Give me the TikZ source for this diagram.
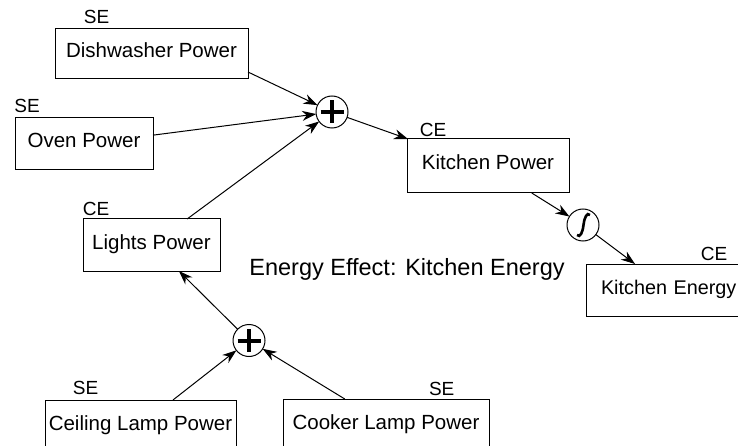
\documentclass[tikz,border=0pt]{standalone}
\usepackage{fontspec}
\setmainfont{Liberation Sans}
\usetikzlibrary{arrows.meta,calc}
\begin{document}
\begin{tikzpicture}[x=1pt,y=-1pt,
 box/.style={draw, line width=1pt, inner sep=0pt, outer sep=0pt, anchor=north west,
   font=\fontsize{20.5}{24}\selectfont, text height=15pt, text depth=7pt},
 tag/.style={inner sep=0pt, anchor=base, font=\fontsize{19}{22}\selectfont},
 junction/.style={draw, circle, line width=1pt, minimum size=32pt, inner sep=0pt, outer sep=0pt},
 sumj/.style={junction, path picture={
   \draw[line width=4pt] (path picture bounding box.center) ++(-11.5,0) -- ++(23,0);
   \draw[line width=4pt] (path picture bounding box.center) ++(0,-11.5) -- ++(0,23);}},
 intj/.style={junction, path picture={
   \draw[line width=2.6pt, shift={(path picture bounding box.center)}]
     (7,-10) .. controls (4,-13) and (1.5,-8) .. (0.5,0)
     .. controls (-0.5,8) and (-3,13) .. (-6,10);}},
 flow/.style={line width=1pt, -{Stealth[length=14pt,width=10pt,inset=4.5pt]}}
]
\useasboundingbox (0,0) rectangle (738,446);

% boxes
\node[box, minimum width=193pt, minimum height=50pt] (dish) at (55,29) {Dishwasher Power};
\node[box, minimum width=138pt, minimum height=52pt] (oven) at (15,118) {Oven Power};
\node[box, minimum width=162pt, minimum height=54pt] (kp) at (407,139) {Kitchen Power};
\node[box, minimum width=175pt, minimum height=52pt, text width=145pt, align=left,
      font=\fontsize{19.8}{24}\selectfont] (ke) at (586,264) {Kitchen Energy};
\node[box, minimum width=137pt, minimum height=52pt] (lights) at (83,219) {Lights Power};
\node[box, minimum width=191pt, minimum height=52pt] (ceil) at (45,400) {Ceiling Lamp Power};
\node[box, minimum width=206pt, minimum height=53pt] (cook) at (283,399) {Cooker Lamp Power};

% tags
\node[tag] (dishT) at (96.5,24) {SE};
\node[tag] (ovenT) at (27,113) {SE};
\node[tag] (kpT) at (433,137) {CE};
\node[tag] (keT) at (714,260.5) {CE};
\node[tag] (lightsT) at (96,215) {CE};
\node[tag] (ceilT) at (85.5,394) {SE};
\node[tag] (cookT) at (441.7,395) {SE};

% effect label
\node[anchor=base, inner sep=0pt, font=\fontsize{23.5}{28}\selectfont] (effect) at (407,275.7) {Energy Effect: Kitchen Energy};

% junctions
\node[sumj] (plusA) at (332,112) {};
\node[intj] (integ) at (583,225) {};
\node[sumj] (plusB) at (249,340.5) {};

% connectors
\draw[flow] ($(dish.north east)!0.86!(dish.south east)$) -- (plusA);
\draw[flow] ($(oven.north east)!0.33!(oven.south east)$) -- (plusA);
\draw[flow] ($(lights.north west)!0.76!(lights.north east)$) -- (plusA);
\draw[flow] (plusA) -- ([xshift=1pt]kp.north west);
\draw[flow] ($(kp.south west)!0.77!(kp.south east)$) -- (integ);
\draw[flow] (integ) -- ($(ke.north west)!0.28!(ke.north east)$);
\draw[flow] (plusB) -- ($(lights.south west)!0.70!(lights.south east)$);
\draw[flow] ($(ceil.north west)!0.67!(ceil.north east)$) -- (plusB);
\draw[flow] ($(cook.north west)!0.30!(cook.north east)$) -- (plusB);
\end{tikzpicture}
\end{document}
